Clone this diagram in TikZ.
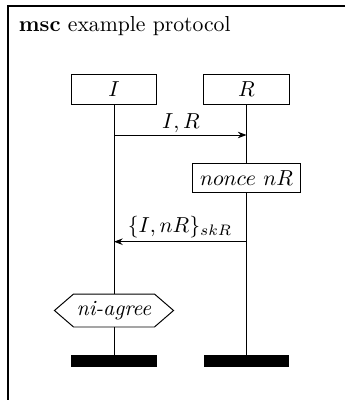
\documentclass[tikz,border=0pt]{standalone}
\usetikzlibrary{arrows.meta}
\begin{document}
\begin{tikzpicture}[x=0.461pt,y=-0.461pt,
  inst/.style={draw,fill=white,line width=0.45pt,minimum width=39.2pt,minimum height=13.4pt,inner sep=0pt},
  act/.style={draw,fill=white,line width=0.45pt,inner sep=3.33pt},
  endbar/.style={fill=black,minimum width=39.6pt,minimum height=5.4pt,inner sep=0pt},
  msg/.style={line width=0.45pt,-{Stealth[length=4pt,width=3pt]}},
  life/.style={line width=0.45pt}]
\useasboundingbox (0,0) rectangle (345,400);
\draw[line width=0.9pt,line cap=butt] (345,6) -- (8,6) -- (8,400);
\node[anchor=base west,inner sep=0pt] (title) at (18.5,31) {\textbf{msc} example protocol};
% instances
\node[inst] (I) at (114,89.5) {$I$};
\node[inst] (R) at (246.5,89.5) {$R$};
\node[endbar] (barI) at (114,361) {};
\node[endbar] (barR) at (246.5,361) {};
% lifelines
\draw[life] (I.south) -- (barI.north);
\draw[life] (R.south) -- (barR.north);
% message 1
\coordinate (m1s) at (114,135);
\coordinate (m1e) at (246.5,135);
\draw[msg] (m1s) -- (m1e);
\node[anchor=base,inner sep=0pt] (l1) at (181,128) {$I,R$};
% action
\node[act] (nonce) at (246.5,178.3) {$nonce~nR$};
% message 2
\coordinate (m2s) at (246.5,241.7);
\coordinate (m2e) at (114,241.7);
\draw[msg] (m2s) -- (m2e);
\node[anchor=base,inner sep=0pt] (l2) at (180,232) {$\{I,nR\}_{skR}$};
% condition
\node[minimum width=36.9pt,minimum height=14.8pt,inner sep=0pt] (agree) at (114,310.5) {};
\filldraw[fill=white,line width=0.45pt] ([xshift=-8.8pt]agree.west) -- (agree.north west) -- (agree.north east) -- ([xshift=8.8pt]agree.east) -- (agree.south east) -- (agree.south west) -- cycle;
\node[inner sep=0pt] (agreetext) at (agree) {\textit{ni-agree}};
\end{tikzpicture}
\end{document}
